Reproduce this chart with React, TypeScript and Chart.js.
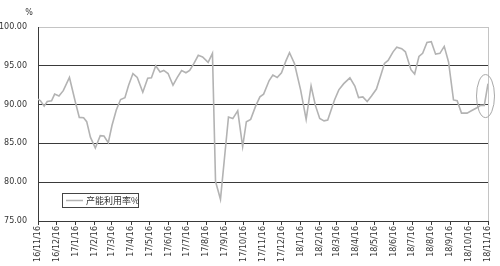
import React, { useEffect, useRef } from "react";
import { Chart, registerables } from "chart.js";

Chart.register(...registerables);

const SERIES_NAME = "产能利用率%";
const UNIT_LABEL = "%";
const START_DATE = Date.UTC(2016, 10, 16);
const MONTH_COUNT = 24;

// day offsets from 2016-11-16
const dayOffsets = [
  0, 4, 10, 15, 22, 27, 34, 41, 51, 61, 67, 74, 79, 85, 93, 101, 107, 114, 120, 127,
  134, 141, 147, 154, 161, 170, 178, 184, 191, 198, 204, 211, 219, 226, 233, 240, 246, 253, 260, 267,
  276, 283, 288, 296, 309, 316, 324, 332, 338, 345, 353, 360, 366, 375, 381, 388, 395, 402, 408, 416,
  426, 435, 443, 450, 457, 464, 470, 481, 488, 496, 506, 514, 520, 527, 534, 541, 549, 557, 562, 568,
  576, 582, 590, 596, 605, 611, 618, 624, 631, 638, 645, 652, 659, 666, 674, 680, 687, 696, 703, 712,
  718, 724, 730,
];

const utilization = [
  90.7, 90.5, 89.8, 90.4, 90.5, 91.35, 91.1, 91.8, 93.5, 90.2, 88.35, 88.3, 87.8, 85.8, 84.4, 86.0, 85.95, 85.1, 87.3, 89.3,
  90.65, 90.9, 92.5, 94.0, 93.5, 91.6, 93.4, 93.45, 95.0, 94.2, 94.4, 94.0, 92.5, 93.5, 94.4, 94.1, 94.4, 95.3, 96.35, 96.15,
  95.45, 96.6, 80.1, 77.8, 88.4, 88.2, 89.2, 84.6, 87.8, 88.1, 89.8, 91.0, 91.35, 93.1, 93.8, 93.5, 94.1, 95.6, 96.7, 95.3,
  91.9, 88.1, 92.4, 89.9, 88.2, 87.9, 88.0, 90.6, 91.9, 92.7, 93.45, 92.4, 90.9, 91.0, 90.4, 91.1, 92.0, 94.0, 95.3, 95.7,
  96.8, 97.4, 97.2, 96.8, 94.5, 93.95, 96.2, 96.6, 98.0, 98.1, 96.5, 96.6, 97.5, 95.5, 90.6, 90.5, 88.9, 88.9, 89.2, 89.6,
  89.9, 89.9, 92.7,
];

const Y_MIN = 75;
const Y_MAX = 100;
const Y_STEP = 5;
const HIGHLIGHT_VALUE = 91.1; // centre of the circled region at the last point

const monthTickDays: number[] = [];
const monthTickLabels: string[] = [];
for (let i = 0; i <= MONTH_COUNT; i++) {
  const d = new Date(Date.UTC(2016, 10 + i, 16));
  monthTickDays.push(Math.round((d.getTime() - START_DATE) / 86400000));
  monthTickLabels.push(
    `${String(d.getUTCFullYear()).slice(2)}/${d.getUTCMonth() + 1}/${d.getUTCDate()}`
  );
}

const FONT = "'DejaVu Sans', sans-serif";
const TEXT_COLOR = "#333333";
const GRID_DARK = "#3a3a3a";
const GRID_LIGHT = "#c4c4c4";
const LINE_COLOR = "#b3b3b3";

const decorPlugin = {
  id: "decor",
  beforeDraw(chart: any) {
    const { ctx, width, height } = chart;
    ctx.save();
    ctx.fillStyle = "#ffffff";
    ctx.fillRect(0, 0, width, height);
    ctx.restore();
  },
  afterDatasetsDraw(chart: any) {
    const { ctx, chartArea, scales } = chart;
    ctx.save();
    // right border
    ctx.strokeStyle = GRID_LIGHT;
    ctx.lineWidth = 1;
    ctx.beginPath();
    ctx.moveTo(Math.round(chartArea.right) + 0.5, chartArea.top);
    ctx.lineTo(Math.round(chartArea.right) + 0.5, chartArea.bottom);
    ctx.stroke();

    // unit label
    ctx.fillStyle = TEXT_COLOR;
    ctx.font = `8px ${FONT}`;
    ctx.textAlign = "center";
    ctx.textBaseline = "middle";
    ctx.fillText(UNIT_LABEL, chartArea.left - 9, chartArea.top - 14);

    // legend box inside the plot
    const lx = chartArea.left + 24;
    const ly = chartArea.bottom - 28;
    const lw = 76;
    const lh = 14;
    ctx.fillStyle = "#ffffff";
    ctx.fillRect(lx, ly, lw, lh);
    ctx.strokeStyle = "#444444";
    ctx.lineWidth = 1;
    ctx.strokeRect(lx + 0.5, ly + 0.5, lw, lh);
    ctx.strokeStyle = LINE_COLOR;
    ctx.lineWidth = 1.5;
    ctx.beginPath();
    ctx.moveTo(lx + 4, ly + lh / 2 + 0.5);
    ctx.lineTo(lx + 21, ly + lh / 2 + 0.5);
    ctx.stroke();
    ctx.fillStyle = TEXT_COLOR;
    ctx.font = `9px 'Noto Sans CJK SC', sans-serif`;
    ctx.textAlign = "left";
    ctx.textBaseline = "middle";
    ctx.fillText(SERIES_NAME, lx + 24, ly + lh / 2 + 1);

    // highlight ellipse around the latest point
    const xs = scales.x;
    const ys = scales.y;
    const lastDay = dayOffsets[dayOffsets.length - 1];
    const cx = xs.getPixelForValue(lastDay) - 2.5;
    const cy = ys.getPixelForValue(HIGHLIGHT_VALUE);
    ctx.strokeStyle = "#a8a8a8";
    ctx.lineWidth = 1;
    ctx.beginPath();
    ctx.ellipse(cx, cy, 9, 21.5, 0, 0, Math.PI * 2);
    ctx.stroke();
    ctx.restore();
  },
};

export default function App() {
  const canvasRef = useRef<HTMLCanvasElement | null>(null);

  useEffect(() => {
    const canvas = canvasRef.current;
    if (!canvas) return;
    const data = dayOffsets.map((d, i) => ({ x: d, y: utilization[i] }));
    const chart = new Chart(canvas, {
      type: "line",
      data: {
        datasets: [
          {
            label: SERIES_NAME,
            data,
            borderColor: LINE_COLOR,
            borderWidth: 1.6,
            pointRadius: 0,
            tension: 0,
            fill: false,
          },
        ],
      },
      options: {
        animation: false,
        responsive: false,
        maintainAspectRatio: false,
        layout: { padding: { top: 27, right: 12, left: 0, bottom: 0 } },
        plugins: {
          legend: { display: false },
          tooltip: { enabled: false },
        },
        scales: {
          x: {
            type: "linear",
            min: 0,
            max: monthTickDays[monthTickDays.length - 1],
            afterBuildTicks: (scale: any) => {
              scale.ticks = monthTickDays.map((v) => ({ value: v }));
            },
            afterFit: (scale: any) => {
              scale.height = 45;
            },
            grid: {
              display: true,
              drawOnChartArea: false,
              drawTicks: true,
              tickLength: 4,
              color: GRID_DARK,
            },
            border: { display: true, color: GRID_DARK, width: 1 },
            ticks: {
              autoSkip: false,
              minRotation: 90,
              maxRotation: 90,
              padding: 1,
              color: TEXT_COLOR,
              font: { family: FONT, size: 8 },
              callback: (value: any) => {
                const idx = monthTickDays.indexOf(Number(value));
                return idx >= 0 ? monthTickLabels[idx] : "";
              },
            },
          },
          y: {
            min: Y_MIN,
            max: Y_MAX,
            afterFit: (scale: any) => {
              scale.width = 38;
            },
            grid: {
              drawTicks: false,
              color: (c: any) => (c.tick && c.tick.value === Y_MAX ? GRID_LIGHT : GRID_DARK),
              lineWidth: 1,
            },
            border: { display: true, color: GRID_DARK, width: 1 },
            ticks: {
              stepSize: Y_STEP,
              padding: 11,
              color: TEXT_COLOR,
              font: { family: FONT, size: 8 },
              callback: (v: any) => Number(v).toFixed(2),
            },
          },
        },
      },
      plugins: [decorPlugin],
    } as any);
    return () => chart.destroy();
  }, []);

  return (
    <div style={{ position: "fixed", left: 0, top: 0, width: 500, height: 266, background: "#fff" }}>
      <canvas ref={canvasRef} width={500} height={266} style={{ display: "block" }} />
    </div>
  );
}
